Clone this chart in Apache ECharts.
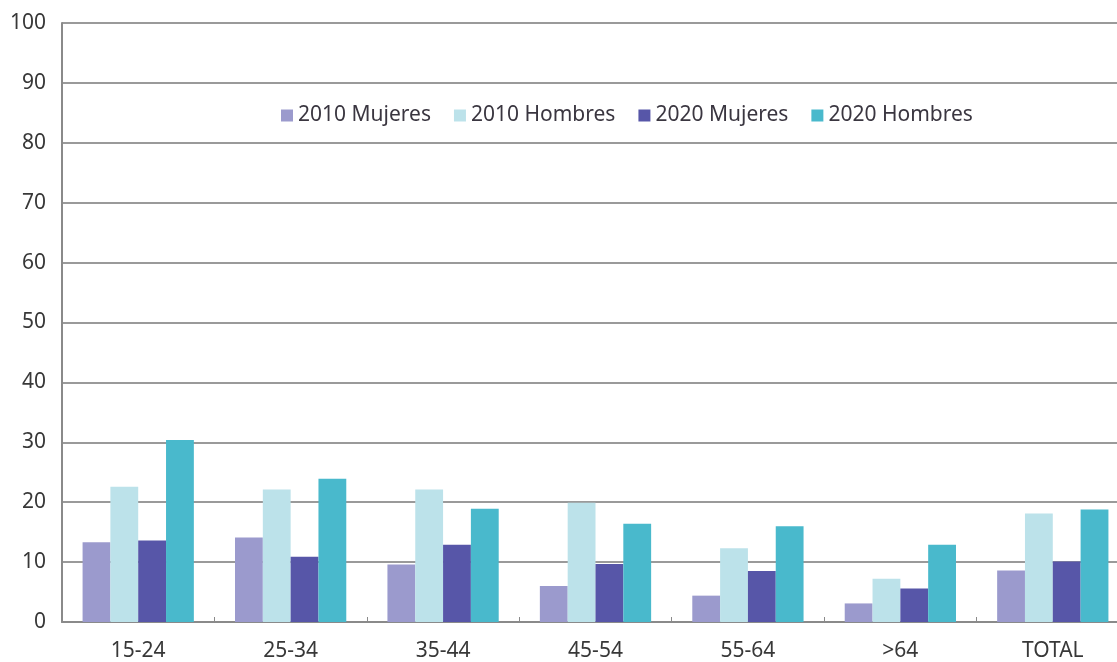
<!DOCTYPE html>
<html>
<head>
<meta charset="utf-8">
<script src="https://cdn.jsdelivr.net/npm/echarts@6/dist/echarts.min.js"></script>
<style>
html,body{margin:0;padding:0;background:#fff;overflow:hidden;}
#chart{width:1129px;height:662px;}
</style>
</head>
<body>
<div id="chart"></div>
<script>
var categories = ['15-24','25-34','35-44','45-54','55-64','>64','TOTAL'];
var mujeres2010 = [13.3, 14.1, 9.6, 6.0, 4.4, 3.1, 8.6];
var hombres2010 = [22.6, 22.1, 22.1, 19.9, 12.3, 7.2, 18.1];
var mujeres2020 = [13.6, 10.9, 12.9, 9.7, 8.5, 5.6, 10.1];
var hombres2020 = [30.4, 23.9, 18.9, 16.4, 16.0, 12.9, 18.8];
var seriesNames = ['2010 Mujeres','2010 Hombres','2020 Mujeres','2020 Hombres'];
var yTicks = [0,10,20,30,40,50,60,70,80,90,100];

var colors = ['#9b9acd','#bce2ea','#5756a8','#49b9cc'];
var font = '"Noto Sans", sans-serif';
var chart = echarts.init(document.getElementById('chart'));
var dataSets = [mujeres2010, hombres2010, mujeres2020, hombres2020];
chart.setOption({
  animation: false,
  color: colors,
  grid: {left: 62, right: 0, top: 23, bottom: 39, containLabel: false},
  legend: {
    data: seriesNames,
    left: 276, top: 100,
    itemWidth: 12, itemHeight: 12, itemGap: 23,
    icon: 'rect',
    textStyle: {fontFamily: font, fontSize: 21, color: '#3a3640'}
  },
  xAxis: {
    type: 'category',
    data: categories,
    axisLine: {lineStyle: {color: '#8a8a8a', width: 2}},
    axisTick: {show: true, inside: true, length: 5, lineStyle: {color: '#8a8a8a'}},
    axisLabel: {fontFamily: font, fontSize: 21, color: '#383838', margin: 19}
  },
  yAxis: {
    type: 'value',
    min: 0, max: 100, interval: 10,
    axisLine: {show: true, lineStyle: {color: '#8a8a8a', width: 2}},
    axisTick: {show: false},
    splitLine: {lineStyle: {color: '#9a9a9a', width: 2}},
    axisLabel: {fontFamily: font, fontSize: 21, color: '#383838', margin: 16,
      formatter: function(v){ return yTicks.indexOf(v) >= 0 ? String(v) : ''; }}
  },
  series: seriesNames.map(function(n, i){
    return {
      name: n, type: 'bar', data: dataSets[i],
      barGap: '0%', barCategoryGap: '27%'
    };
  })
});
</script>
</body>
</html>
